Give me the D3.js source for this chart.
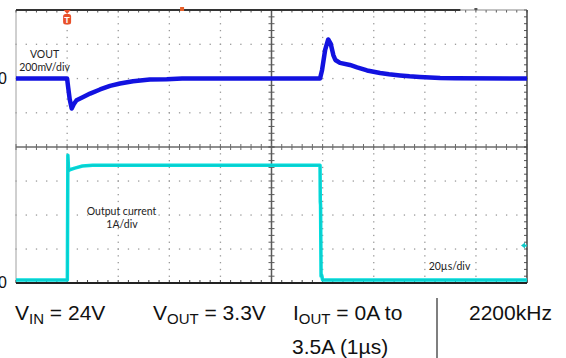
<!DOCTYPE html>
<html>
<head>
<meta charset="utf-8">
<script src="https://cdn.jsdelivr.net/npm/d3@7"></script>
<style>
  html, body { margin: 0; padding: 0; background: #fff; overflow: hidden; }
  svg { display: block; }
</style>
</head>
<body>
<svg id="chart" width="566" height="358"></svg>
<script>
// ---------- data ----------
// time axis in microseconds (20 µs/div, 10 divisions)
const timeDomain = [0, 200];
const timeMajor = d3.range(0, 201, 20);
const timeMinor = d3.range(0, 200.01, 4);

// VOUT deviation from 3.3 V, mV (200 mV/div)
const voutDomain = [-400, 400];
const voutMajor = [-400, -200, 0, 200, 400];
const voutMinor = d3.range(-400, 400.01, 40);
const voutTime = [0, 20, 20.4, 21, 21.8, 22.6, 23.7, 26.3, 29, 32.9, 36.8, 40.7, 45.8, 52.4, 59, 65,
                  119, 119.8, 121, 122.2, 123.2, 124.2, 125, 126.8, 130.7, 133.5, 137.4, 142.5, 146, 150.3, 154, 158, 162, 166, 172, 200];
const voutMv   = [0, 0, -50, -120, -175, -150, -127, -108, -88, -64, -43, -29, -16, -6, -4, 0,
                  0, 50, 167, 228, 202, 137, 108, 91, 79, 65, 47, 32, 25, 18, 13, 9, 6, 3, 1, 0];

// Output current, A (1 A/div)
const ioutDomain = [0, 4];
const ioutMajor = [0, 1, 2, 3, 4];
const ioutMinor = d3.range(0, 4.001, 0.2);
const ioutTime = [0, 20.1, 20.3, 20.6, 21, 23, 26, 30, 119, 119.1, 119.2, 119.4, 119.6, 120, 200];
const ioutA    = [0.09, 0.09, 3.76, 3.3, 3.33, 3.38, 3.44, 3.46, 3.46, 2.39, 2.3, 0.2, 0.24, 0.09, 0.09];

const zeroLabels = ["0", "0"];
const traceLabels = ["VOUT", "200mV/div", "Output current", "1A/div", "20µs/div"];
const condVin = ["V", "IN", " = 24V"];
const condVout = ["V", "OUT", " = 3.3V"];
const condIout = ["I", "OUT", " = 0A to"];
const condIout2 = "3.5A (1µs)";
const condFreq = "2200kHz";

// ---------- scales ----------
const svg = d3.select("#chart");
const x = d3.scaleLinear().domain(timeDomain).range([16, 527]);
const yTop = d3.scaleLinear().domain(voutDomain).range([147, 10]);
const yBot = d3.scaleLinear().domain(ioutDomain).range([283, 147]);

const L = x(timeDomain[0]), R = x(timeDomain[1]);
const T = yTop(voutDomain[1]), M = yTop(voutDomain[0]), B = yBot(ioutDomain[0]);
const C = x(100);

// ---------- grid ----------
const g = svg.append("g");
const dotColor = "#9a9a9a";
// dotted vertical major lines
const innerX = timeMajor.filter(t => t !== 0 && t !== 100 && t !== 200);
const allYMinor = voutMinor.map(v => yTop(v)).concat(ioutMinor.map(v => yBot(v)));
innerX.forEach(t => {
  allYMinor.forEach(yy => {
    g.append("rect").attr("x", x(t) - 0.6).attr("y", yy - 0.6).attr("width", 1.3).attr("height", 1.3).attr("fill", dotColor);
  });
});
// dotted horizontal major lines
const innerY = voutMajor.filter(v => v !== -400 && v !== 400).map(v => yTop(v))
  .concat(ioutMajor.filter(v => v !== 0 && v !== 4).map(v => yBot(v)));
innerY.forEach(yy => {
  timeMinor.forEach(t => {
    g.append("rect").attr("x", x(t) - 0.6).attr("y", yy - 0.6).attr("width", 1.3).attr("height", 1.3).attr("fill", dotColor);
  });
});

// left border (light)
g.append("line").attr("x1", L).attr("x2", L).attr("y1", T).attr("y2", B).attr("stroke", "#a0a0a0").attr("stroke-width", 1);

// center lines with ticks
g.append("line").attr("x1", L).attr("x2", R).attr("y1", M).attr("y2", M).attr("stroke", "#6a6a6a").attr("stroke-width", 1.5);
g.append("line").attr("x1", C).attr("x2", C).attr("y1", T).attr("y2", B).attr("stroke", "#5a5a5a").attr("stroke-width", 1.5);
timeMinor.forEach(t => {
  g.append("line").attr("x1", x(t)).attr("x2", x(t)).attr("y1", M - 3).attr("y2", M + 3).attr("stroke", "#6a6a6a").attr("stroke-width", 1);
  g.append("line").attr("x1", x(t)).attr("x2", x(t)).attr("y1", B - 3).attr("y2", B).attr("stroke", "#444").attr("stroke-width", 1);
  g.append("line").attr("x1", x(t)).attr("x2", x(t)).attr("y1", T).attr("y2", T + 2.5).attr("stroke", "#555").attr("stroke-width", 1);
});
allYMinor.forEach(yy => {
  g.append("line").attr("x1", C - 3).attr("x2", C + 3).attr("y1", yy).attr("y2", yy).attr("stroke", "#5a5a5a").attr("stroke-width", 1);
  g.append("line").attr("x1", R - 3).attr("x2", R).attr("y1", yy).attr("y2", yy).attr("stroke", "#555").attr("stroke-width", 1);
});

// top border (dark then light), right & bottom borders
g.append("line").attr("x1", L).attr("x2", x(174)).attr("y1", T).attr("y2", T).attr("stroke", "#333").attr("stroke-width", 1.8);
g.append("line").attr("x1", x(174)).attr("x2", R).attr("y1", T).attr("y2", T).attr("stroke", "#888").attr("stroke-width", 1.2);
g.append("line").attr("x1", R).attr("x2", R).attr("y1", T).attr("y2", B).attr("stroke", "#444").attr("stroke-width", 1.5);
g.append("line").attr("x1", L).attr("x2", R).attr("y1", B).attr("y2", B).attr("stroke", "#222").attr("stroke-width", 2);

// ---------- traces ----------
const vLine = d3.line().x((d, i) => x(voutTime[i])).y(d => yTop(d));
svg.append("path").datum(voutMv).attr("d", vLine)
  .attr("fill", "none").attr("stroke", "#1212e0").attr("stroke-width", 4.5)
  .attr("stroke-linejoin", "round");

const iLine = d3.line().x((d, i) => x(ioutTime[i])).y(d => yBot(d));
svg.append("path").datum(ioutA).attr("d", iLine)
  .attr("fill", "none").attr("stroke", "#00dede").attr("stroke-width", 3.5)
  .attr("stroke-linejoin", "round");
svg.append("path").datum(ioutA).attr("d", iLine)
  .attr("fill", "none").attr("stroke", "#10c8c8").attr("stroke-width", 1.2)
  .attr("stroke-linejoin", "round");

// ---------- markers ----------
// trigger marker
const tx = x(20);
svg.append("path").attr("d", `M${tx - 3.5},${T} L${tx + 3.5},${T} L${tx},${T + 4} Z`).attr("fill", "#e8502a");
svg.append("rect").attr("x", tx - 4).attr("y", T + 4).attr("width", 8).attr("height", 10.5).attr("rx", 2.5).attr("fill", "#e8502a");
svg.append("text").attr("x", tx).attr("y", T + 12.5).attr("text-anchor", "middle")
  .attr("font-family", "Liberation Sans, Arial, sans-serif").attr("font-size", 9).attr("font-weight", "bold")
  .attr("fill", "#fff").text("T");
// horizontal position marker
svg.append("rect").attr("x", x(65) - 2).attr("y", T - 3).attr("width", 4).attr("height", 4).attr("fill", "#e8602a");
svg.append("rect").attr("x", x(180) - 1.5).attr("y", T - 2).attr("width", 3).attr("height", 2).attr("fill", "#555");
// channel marker (cyan)
const my = yBot(1.1);
svg.append("path").attr("d", `M${R - 6},${my} L${R - 2},${my - 3} L${R - 2},${my + 3} Z`).attr("fill", "#10c8c8");
svg.append("line").attr("x1", R - 3).attr("x2", R).attr("y1", my).attr("y2", my).attr("stroke", "#10c8c8").attr("stroke-width", 2);

// ---------- zero labels ----------
svg.append("text").attr("x", 7).attr("y", yTop(0) + 5.8).attr("text-anchor", "end")
  .attr("font-family", "Liberation Sans, Arial, sans-serif").attr("font-size", 16).attr("fill", "#111").text(zeroLabels[0]);
svg.append("text").attr("x", 7).attr("y", yBot(0) + 5.3).attr("text-anchor", "end")
  .attr("font-family", "Liberation Sans, Arial, sans-serif").attr("font-size", 16).attr("fill", "#111").text(zeroLabels[1]);

// ---------- trace labels ----------
const lf = "Lato, Liberation Sans, sans-serif";
const labelPos = [[44.5, 58], [44.5, 71], [121.5, 215], [122, 227.5], [449.5, 270]];
traceLabels.forEach((s, i) => {
  svg.append("text").attr("x", labelPos[i][0]).attr("y", labelPos[i][1]).attr("text-anchor", "middle")
    .attr("font-family", lf).attr("font-size", 10.5).attr("fill", "#222").text(s);
});

// ---------- condition text ----------
const cf = "Liberation Sans, Arial, sans-serif";
function cond(xx, yy, parts) {
  const t = svg.append("text").attr("x", xx).attr("y", yy).attr("font-family", cf).attr("font-size", 21).attr("fill", "#111");
  t.append("tspan").text(parts[0]);
  t.append("tspan").attr("dy", 4).attr("font-size", 15).text(parts[1]);
  t.append("tspan").attr("dy", -4).text(parts[2]);
}
cond(15, 320, condVin);
cond(153, 320, condVout);
cond(293, 320, condIout);
svg.append("text").attr("x", 292).attr("y", 354).attr("font-family", cf).attr("font-size", 21).attr("fill", "#111").text(condIout2);
svg.append("text").attr("x", 469).attr("y", 320).attr("font-family", cf).attr("font-size", 21).attr("fill", "#111").text(condFreq);
svg.append("line").attr("x1", 437).attr("x2", 437).attr("y1", 298).attr("y2", 358).attr("stroke", "#555").attr("stroke-width", 1.5);
</script>
</body>
</html>
